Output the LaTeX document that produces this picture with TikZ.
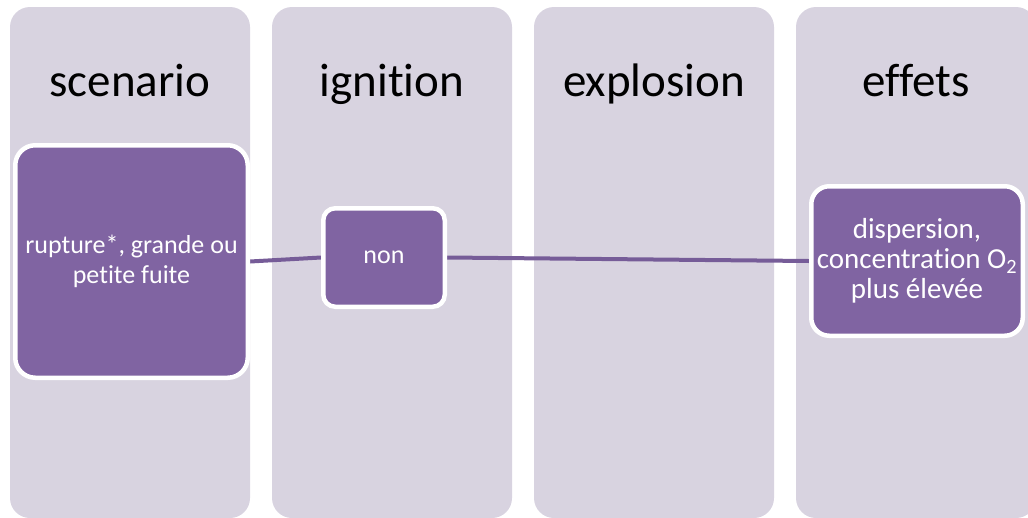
\documentclass[tikz,border=0pt]{standalone}
\usepackage{fontspec}
\setmainfont{Carlito}[Ligatures={NoCommon,NoRare,NoContextual}]
\usetikzlibrary{backgrounds}
\definecolor{colfill}{HTML}{D8D3E0}
\definecolor{boxfill}{HTML}{8064A2}
\definecolor{lnk}{HTML}{765C98}
\begin{document}
\begin{tikzpicture}[x=1pt,y=-1pt,
  column/.style={fill=colfill, rounded corners=20pt},
  header/.style={anchor=base, font=\fontsize{47}{56}\selectfont, text=black},
  stage/.style={draw=white, line width=4.5pt, fill=boxfill, text=white, align=center, inner sep=0pt},
  link/.style={draw=lnk, line width=4pt}]
\useasboundingbox (0,0) rectangle (1028,517);

\node[header] (h1) at (130,96) {scenario};
\node[header] (h2) at (392,96) {ignition};
\node[header] (h3) at (654,96) {explosion};
\node[header] (h4) at (916,96) {effets};

\node[stage, rounded corners=20pt, minimum width=232.5pt, minimum height=232.5pt,
  font=\fontsize{26}{30}\selectfont] (b1) at (131.5,261.5) {rupture*, grande ou\\petite fuite};
\node[stage, rounded corners=12pt, minimum width=121.5pt, minimum height=98.5pt,
  font=\fontsize{26}{30}\selectfont] (b2) at (384,257.5) {non};
\node[stage, rounded corners=18pt, minimum width=211.5pt, minimum height=149.5pt,
  font=\fontsize{29}{30}\selectfont] (b4) at (917,261) {dispersion,\\concentration O\textsubscript{2}\\plus élevée};

\begin{scope}[on background layer]
  \clip (0,0) rectangle (1028,517);
  \fill[column] (10,7) rectangle (250,518);
  \fill[column] (272,7) rectangle (512,518);
  \fill[column] (534,7) rectangle (774,518);
  \fill[column] (796,7) rectangle (1036,518);
  \draw[link] (b1.east) -- (b2.west);
  \draw[link] (b2.east) -- (b4.west);
\end{scope}
\end{tikzpicture}
\end{document}
